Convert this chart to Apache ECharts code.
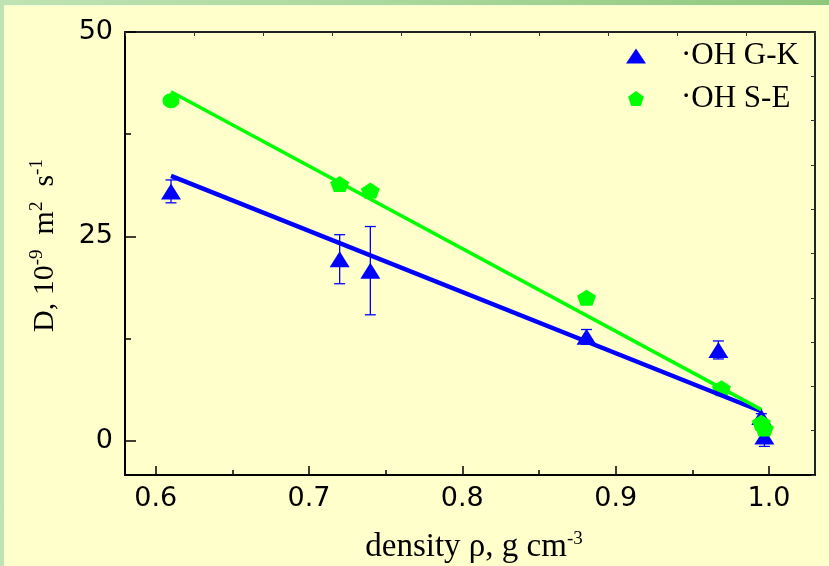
<!DOCTYPE html>
<html>
<head>
<meta charset="utf-8">
<script src="https://cdn.jsdelivr.net/npm/echarts@6/dist/echarts.min.js"></script>
<style>
  html, body { margin: 0; padding: 0; }
  #frame {
    position: relative; width: 829px; height: 566px; overflow: hidden;
    background: linear-gradient(90deg, #bfe3b3 0%, #a9d79a 50%, #8fc77c 100%);
  }
  #paper {
    position: absolute; left: 4px; top: 5px; right: 0; bottom: 0;
    background: #ffffcc;
    box-shadow: inset 1px 1px 0 #f4fbd8;
  }
  #chart { position: absolute; left: 0; top: 0; width: 829px; height: 566px; }
</style>
</head>
<body>
<div id="frame">
  <div id="paper"></div>
  <div id="chart"></div>
</div>
<script>
// Diffusion coefficient of the OH radical vs. water density
// G-K: Green-Kubo estimate (with error bars); S-E: Stokes-Einstein estimate
const densityGK = [0.61, 0.72, 0.74, 0.881, 0.967, 0.995, 0.997];
const diffGK    = [30.5, 22.2, 20.8, 12.7, 11.1, 2.9, 0.5];
const errGK     = [1.4, 3.0, 5.4, 0.9, 1.1, 0.4, 1.2];

const densitySE = [0.61, 0.72, 0.74, 0.881, 0.969, 0.995, 0.997];
const diffSE    = [41.6, 31.4, 30.6, 17.5, 6.4, 2.2, 1.5];

// linear fits
const fitDensity = [0.61, 0.995];
const fitGK      = [32.4, 3.6];
const fitSE      = [42.7, 3.8];

// axis ticks
const xTicks      = [0.6, 0.7, 0.8, 0.9, 1.0];
const xMinorTicks = [0.65, 0.75, 0.85, 0.95];
const yTicks      = [0, 25, 50];
const yMinorTicks = [12.5, 37.5];

const nameGK = 'OH G-K';
const nameSE = 'OH S-E';

const BLUE = '#0000ff';
const GREEN = '#00ff00';
const PENTAGON = 'path://M50,0 L97.6,34.5 L79.4,90.5 L20.6,90.5 L2.4,34.5 Z';
const SERIF = '"Liberation Serif", "Times New Roman", serif';
const SANS = '"DejaVu Sans", sans-serif';

const X_MIN = 0.58, X_MAX = 1.03;
const Y_MIN = -4.2, Y_MAX = 50;

const errData = densityGK.map((d, i) => [d, diffGK[i] - errGK[i], diffGK[i] + errGK[i]]);
const gkData = densityGK.map((d, i) => [d, diffGK[i]]);
const seData = densitySE.map((d, i) => i === 0
  ? { value: [d, diffSE[i]], symbol: 'circle', symbolSize: [17, 15] }
  : [d, diffSE[i]]);
const fitGKData = fitDensity.map((d, i) => [d, fitGK[i]]);
const fitSEData = fitDensity.map((d, i) => [d, fitSE[i]]);

const supStyle = { fontFamily: SERIF, fontSize: 19, lineHeight: 10, verticalAlign: 'top', color: '#000' };

const chart = echarts.init(document.getElementById('chart'), null, { renderer: 'canvas' });

chart.setOption({
  backgroundColor: 'transparent',
  animation: false,
  grid: { left: 125, right: 14, top: 32, bottom: 91, outerBoundsMode: 'none', containLabel: false },
  legend: {
    orient: 'vertical',
    left: 621,
    top: 35,
    itemWidth: 20,
    itemHeight: 15,
    itemGap: 11,
    selectedMode: false,
    data: [
      { name: nameGK, icon: 'triangle', itemStyle: { color: BLUE } },
      { name: nameSE, icon: PENTAGON, itemStyle: { color: GREEN } }
    ],
    formatter: n => '{dot|·}{t|' + n + '}',
    textStyle: {
      rich: {
        dot: { fontFamily: SERIF, fontSize: 31, lineHeight: 8, verticalAlign: 'top', color: '#000', padding: [0, 0, 0, 30] },
        t: { fontFamily: SERIF, fontSize: 31, lineHeight: 32, color: '#000' }
      }
    }
  },
  xAxis: [
    {
      type: 'value', position: 'bottom', min: X_MIN, max: X_MAX,
      splitLine: { show: false },
      axisLine: { onZero: false, lineStyle: { color: '#000', width: 2 } },
      axisTick: { inside: true, length: 9, customValues: xTicks, lineStyle: { color: '#000', width: 1.5 } },
      axisLabel: {
        customValues: xTicks, margin: 10, formatter: v => v.toFixed(1),
        fontFamily: SANS, fontSize: 27, color: '#000'
      },
      name: 'density ρ, g cm{s|-3}',
      nameLocation: 'middle', nameGap: 55,
      nameTextStyle: {
        fontFamily: SERIF, fontSize: 33, lineHeight: 34, color: '#000', padding: [0, 0, 0, 8],
        rich: { s: supStyle }
      }
    },
    {
      // frame along the top edge
      type: 'value', position: 'top', min: 0, max: 10, interval: 1,
      splitLine: { show: false },
      axisLine: { onZero: false, lineStyle: { color: '#222', width: 2 } },
      axisTick: { inside: true, length: 4, lineStyle: { color: '#333', width: 1 } },
      axisLabel: { show: false }
    },
    {
      // minor ticks on the density axis
      type: 'value', position: 'bottom', min: X_MIN, max: X_MAX,
      splitLine: { show: false },
      axisLine: { show: false, onZero: false },
      axisTick: { inside: true, length: 5, customValues: xMinorTicks, lineStyle: { color: '#000', width: 1.5 } },
      axisLabel: { show: false }
    }
  ],
  yAxis: [
    {
      type: 'value', position: 'left', min: Y_MIN, max: Y_MAX,
      splitLine: { show: false },
      axisLine: { onZero: false, lineStyle: { color: '#000', width: 2 } },
      axisTick: { inside: true, length: 11, customValues: yTicks, lineStyle: { color: '#000', width: 1.5 } },
      axisLabel: { customValues: yTicks, margin: 12, fontFamily: SANS, fontSize: 27, color: '#000' },
      name: 'D, 10{s|-9}  m{s|2}  s{s|-1}',
      nameLocation: 'middle', nameRotate: 90, nameGap: 63,
      nameTextStyle: {
        fontFamily: SERIF, fontSize: 30, lineHeight: 34, color: '#000', padding: [0, 0, 0, 16],
        rich: { s: supStyle }
      }
    },
    {
      // frame along the right edge
      type: 'value', position: 'right', min: 0, max: 10, interval: 1,
      splitLine: { show: false },
      axisLine: { onZero: false, lineStyle: { color: '#222', width: 2 } },
      axisTick: { inside: true, length: 4, lineStyle: { color: '#333', width: 1 } },
      axisLabel: { show: false }
    },
    {
      // minor ticks on the D axis
      type: 'value', position: 'left', min: Y_MIN, max: Y_MAX,
      splitLine: { show: false },
      axisLine: { show: false, onZero: false },
      axisTick: { inside: true, length: 6, customValues: yMinorTicks, lineStyle: { color: '#000', width: 1.5 } },
      axisLabel: { show: false }
    }
  ],
  series: [
    {
      type: 'custom',
      name: 'errGK',
      xAxisIndex: 0, yAxisIndex: 0,
      data: errData,
      encode: { x: 0, y: [1, 2] },
      renderItem: function (params, api) {
        const x = api.value(0);
        const lo = api.coord([x, api.value(1)]);
        const hi = api.coord([x, api.value(2)]);
        const hw = 5.5;
        const style = { stroke: BLUE, lineWidth: 1.3 };
        return {
          type: 'group',
          children: [
            { type: 'line', shape: { x1: lo[0], y1: lo[1], x2: hi[0], y2: hi[1] }, style },
            { type: 'line', shape: { x1: lo[0] - hw, y1: lo[1], x2: lo[0] + hw, y2: lo[1] }, style },
            { type: 'line', shape: { x1: hi[0] - hw, y1: hi[1], x2: hi[0] + hw, y2: hi[1] }, style }
          ]
        };
      }
    },
    {
      type: 'line', name: 'fitGK', xAxisIndex: 0, yAxisIndex: 0,
      data: fitGKData, showSymbol: false, symbol: 'none',
      lineStyle: { color: BLUE, width: 4.5 }
    },
    {
      type: 'line', name: 'fitSE', xAxisIndex: 0, yAxisIndex: 0,
      data: fitSEData, showSymbol: false, symbol: 'none',
      lineStyle: { color: GREEN, width: 3.5 }
    },
    {
      type: 'scatter', name: nameGK, xAxisIndex: 0, yAxisIndex: 0,
      data: gkData, symbol: 'triangle', symbolSize: [20, 16],
      itemStyle: { color: BLUE, opacity: 1 }
    },
    {
      type: 'scatter', name: nameSE, xAxisIndex: 0, yAxisIndex: 0,
      data: seData, symbol: PENTAGON, symbolSize: [19, 16],
      itemStyle: { color: GREEN, opacity: 1 }
    }
  ]
});
</script>
</body>
</html>
